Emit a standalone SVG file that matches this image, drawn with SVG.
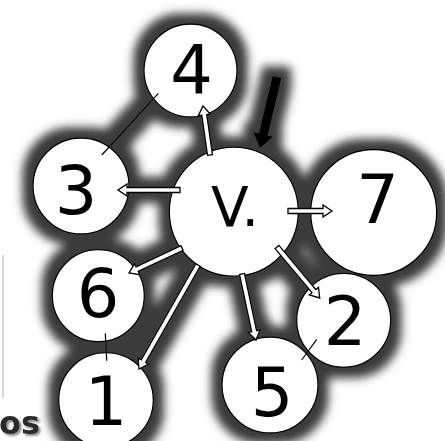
<svg xmlns="http://www.w3.org/2000/svg" width="445" height="441" viewBox="0 0 445 441">
<style>
.disk{fill:#fff;stroke:none}
.ring{fill:none;stroke:#000;stroke-width:1.3}
.lbl{font-family:"DejaVu Sans","Liberation Sans",sans-serif;font-size:67px;fill:#000;text-anchor:middle}
.edge{stroke:#000;stroke-width:1.2;fill:none}
.arr{fill:#fff;stroke:#000;stroke-width:1.3;stroke-linejoin:miter}
.big{fill:#000;stroke:none}
</style>
<defs>
<filter id="halo" x="-20%" y="-20%" width="140%" height="140%">
<feMorphology in="SourceAlpha" operator="dilate" radius="10" result="d"/>
<feGaussianBlur in="d" stdDeviation="5" result="b"/>
<feFlood flood-color="#3a3a3a"/>
<feComposite in2="b" operator="in" result="s"/>
<feMerge><feMergeNode in="s"/><feMergeNode in="SourceGraphic"/></feMerge>
</filter>
<filter id="tshadow" x="-20%" y="-20%" width="150%" height="150%">
<feDropShadow dx="2" dy="2" stdDeviation="0.8" flood-color="#8a8a8a"/>
</filter>
</defs>
<rect width="445" height="441" fill="#fff"/>
<rect x="2" y="255" width="2" height="143" fill="#d6d6d6"/>
<text x="-1" y="434" font-family="DejaVu Sans,sans-serif" font-weight="bold" font-size="32" fill="#2a2a2a" filter="url(#tshadow)">os</text>
<g filter="url(#halo)">
<g id="disks">
<circle class="disk" cx="190.5" cy="70.5" r="46.5"/>
<circle class="disk" cx="81" cy="186" r="48"/>
<circle class="disk" cx="233.8" cy="211.7" r="64.5"/>
<circle class="disk" cx="373.7" cy="212.5" r="63"/>
<circle class="disk" cx="98.3" cy="295.7" r="46"/>
<circle class="disk" cx="106" cy="400" r="47.3"/>
<circle class="disk" cx="270" cy="385" r="48"/>
<circle class="disk" cx="343.7" cy="320.3" r="47"/>
</g>
<g id="node-4"><circle class="ring" cx="190.5" cy="70.5" r="46.5"/><text class="lbl" x="191.5" y="94">4</text></g>
<g id="node-3"><circle class="ring" cx="81" cy="186" r="48"/><text class="lbl" x="76" y="214">3</text></g>
<g id="node-v"><circle class="ring" cx="233.8" cy="211.7" r="64.5"/><text x="211" y="226" font-family="DejaVu Sans,sans-serif" font-size="55">V.</text></g>
<g id="node-7"><circle class="ring" cx="373.7" cy="212.5" r="63"/><text class="lbl" x="377.5" y="223">7</text></g>
<g id="node-6"><circle class="ring" cx="98.3" cy="295.7" r="46"/><text class="lbl" x="98" y="317">6</text></g>
<g id="node-1"><circle class="ring" cx="106" cy="400" r="47.3"/><text class="lbl" x="106" y="425">1</text></g>
<g id="node-5"><circle class="ring" cx="270" cy="385" r="48"/><text class="lbl" x="272" y="416">5</text></g>
<g id="node-2"><circle class="ring" cx="343.7" cy="320.3" r="47"/><text class="lbl" x="345" y="345">2</text></g>
<g id="connectors">
<line class="edge" x1="158.3" y1="93.3" x2="101.8" y2="155"/>
<line class="edge" x1="105.3" y1="333.3" x2="106.7" y2="360.7"/>
<line class="edge" x1="316.7" y1="339.3" x2="301.7" y2="360"/>
<path class="arr" transform="translate(210,155) rotate(-98.13)" d="M0,-2.5 H40.5 V-6 L49.5,0 L40.5,6 V2.5 H0 Z"/>
<path class="arr" transform="translate(180,190) rotate(180)" d="M0,-2.5 H53 V-6 L62,0 L53,6 V2.5 H0 Z"/>
<path class="arr" transform="translate(288,211)" d="M0,-2.5 H35 V-6 L44,0 L35,6 V2.5 H0 Z"/>
<path class="arr" transform="translate(182,248) rotate(154.75)" d="M0,-2.5 H49.6 V-6 L58.6,0 L49.6,6 V2.5 H0 Z"/>
<path class="arr" transform="translate(198,265) rotate(119.57)" d="M0,-2.5 H110.6 V-6 L119.6,0 L110.6,6 V2.5 H0 Z"/>
<path class="arr" transform="translate(242,274) rotate(78.02)" d="M0,-2.5 H58.5 V-6 L67.5,0 L58.5,6 V2.5 H0 Z"/>
<path class="arr" transform="translate(277,247) rotate(50.06)" d="M0,-2.5 H57.5 V-6 L66.5,0 L57.5,6 V2.5 H0 Z"/>
<path class="big" transform="translate(277,77) rotate(103.47)" d="M0,-4.5 H59 V-10 L73,0 L59,10 V4.5 H0 Z"/>
</g>
</g>
</svg>
